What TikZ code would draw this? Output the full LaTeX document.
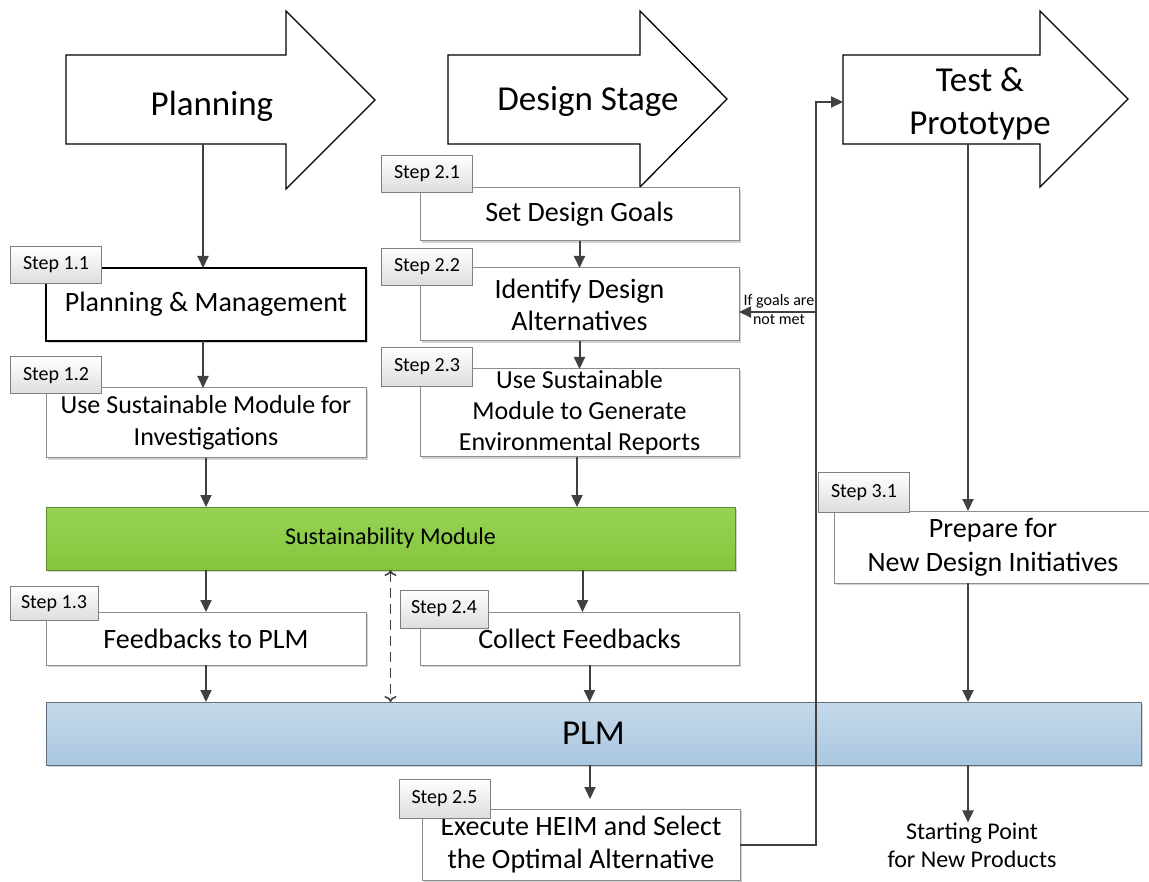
\documentclass[tikz,border=0pt]{standalone}
\usepackage{fontspec}
\setmainfont{Carlito}
\usetikzlibrary{arrows.meta,shadows}
\definecolor{ln}{HTML}{404040}
\definecolor{boxgray}{HTML}{8C8C8C}
\definecolor{tabgray}{HTML}{7F7F7F}
\definecolor{tabbot}{HTML}{DDDDDD}
\definecolor{susTop}{HTML}{96D355}
\definecolor{susBot}{HTML}{84C53C}
\definecolor{susLine}{HTML}{5E8B34}
\definecolor{plmTop}{HTML}{C5D9EA}
\definecolor{plmBot}{HTML}{A9C7E0}
\definecolor{plmLine}{HTML}{5F6E7D}
\begin{document}
\begin{tikzpicture}[x=1pt,y=-1pt,
  stagearrow/.style={draw=black, line width=1.3pt, fill=white, line join=miter},
  stagetext/.style={inner sep=0pt, align=center, font=\fontsize{35}{43}\selectfont},
  box/.style={draw=boxgray, line width=1pt, fill=white, inner sep=0pt, outer sep=0pt,
    align=center, font=\fontsize{28}{32}\selectfont,
    drop shadow={shadow xshift=2pt, shadow yshift=-2pt, opacity=0.18, fill=black}},
  tab/.style={draw=tabgray, line width=1pt, top color=white, bottom color=tabbot,
    minimum width=91pt, minimum height=37pt, inner sep=0pt, outer sep=0pt,
    font=\fontsize{20}{24}\selectfont},
  conn/.style={draw=ln, line width=2pt, -{Triangle[length=12pt,width=11pt]}},
  dconn/.style={draw=ln, line width=1.6pt, dash pattern=on 10pt off 6pt,
    {To[length=6pt,width=12pt]}-{To[length=6pt,width=12pt]}},
  small/.style={inner sep=0pt, align=center, font=\fontsize{16}{19}\selectfont},
]
\useasboundingbox (0,0) rectangle (1149,882);

% stage arrows
\draw[stagearrow] (66,55) -- (286,55) -- (286,11) -- (375,100) -- (286,189) -- (286,144) -- (66,144) -- cycle;
\node[stagetext] (planning) at (212,106) {Planning};
\draw[stagearrow] (448,55) -- (640,55) -- (640,11) -- (727,99) -- (640,187) -- (640,144) -- (448,144) -- cycle;
\node[stagetext] (design) at (588,101) {Design Stage};
\draw[stagearrow] (843,55) -- (1040,55) -- (1040,11) -- (1128,99) -- (1040,187) -- (1040,144) -- (843,144) -- cycle;
\node[stagetext] (test) at (980,104) {Test \&\\Prototype};

\coordinate (pa) at (203,144.5);
\coordinate (ta) at (968,144.5);
\coordinate (loop) at (816,102);
\coordinate (tst) at (843,102);
\coordinate (br) at (816,312);

% boxes
\node[box, draw=black, line width=1.6pt, minimum width=320pt, minimum height=73pt] (b11) at (206,304.5) {Planning \& Management};
\node[box, minimum width=320pt, minimum height=70pt, font=\fontsize{26}{32}\selectfont] (b12) at (206,423) {Use Sustainable Module for\\Investigations};
\node[box, minimum width=319pt, minimum height=53pt] (b21) at (579.5,214.5) {Set Design Goals};
\node[box, minimum width=319pt, minimum height=73pt] (b22) at (579.5,304.5) {Identify Design\\Alternatives};
\node[box, minimum width=319pt, minimum height=88pt, font=\fontsize{26}{31}\selectfont] (b23) at (579.5,413) {Use Sustainable\\Module to Generate\\Environmental Reports};
\node[box, draw=susLine, top color=susTop, bottom color=susBot, minimum width=689pt, minimum height=63pt, font=\fontsize{24}{28}\selectfont] (sus) at (390.5,538.5) {Sustainability Module};
\node[box, minimum width=320pt, minimum height=53pt] (b13) at (206,638.5) {Feedbacks to PLM};
\node[box, minimum width=319pt, minimum height=53pt] (b24) at (579.5,638.5) {Collect Feedbacks};
\node[box, draw=plmLine, top color=plmTop, bottom color=plmBot, minimum width=1095pt, minimum height=63pt, font=\fontsize{35}{40}\selectfont] (plm) at (593.5,733.5) {PLM};
\node[box, minimum width=318pt, minimum height=71pt, font=\fontsize{28}{33}\selectfont] (b25) at (581,844.5) {Execute HEIM and Select\\the Optimal Alternative};
\node[box, minimum width=318pt, minimum height=72pt, font=\fontsize{28}{34}\selectfont] (b31) at (993,547) {Prepare for\\New Design Initiatives};

% tabs
\node[tab] (t11) at (56,265) {Step 1.1};
\node[tab] (t12) at (56,375.5) {Step 1.2};
\node[tab, minimum width=88pt, minimum height=34pt] (t13) at (54,603.5) {Step 1.3};
\node[tab] (t21) at (427,174) {Step 2.1};
\node[tab] (t22) at (427,267) {Step 2.2};
\node[tab, minimum height=39pt] (t23) at (427,367) {Step 2.3};
\node[tab, minimum width=88pt, minimum height=38pt] (t24) at (444,609) {Step 2.4};
\node[tab, minimum height=39pt] (t25) at (444.5,798.5) {Step 2.5};
\node[tab, minimum height=39pt] (t31) at (864,492.5) {Step 3.1};

% free texts
\node[small] (ifnot) at (779,309.5) {If goals are\\not met};
\node[inner sep=0pt, align=center, font=\fontsize{24}{28}\selectfont] (start) at (972,845) {Starting Point\\for New Products};

% connectors
\draw[conn] (pa) -- (pa |- b11.north);
\draw[conn] ([xshift=-3pt]b11.south) -- ([xshift=-3pt]b12.north);
\draw[conn] (b12.south) -- (b12.south |- sus.north);
\draw[conn] (b21.south) -- (b22.north);
\draw[conn] (b22.south) -- (b23.north);
\draw[conn] ([xshift=-2.5pt]b23.south) -- ([xshift=-2.5pt]b23.south |- sus.north);
\draw[conn] (b13.north |- sus.south) -- (b13.north);
\draw[conn] ([xshift=3pt]b24.north |- sus.south) -- ([xshift=3pt]b24.north);
\draw[conn] (b13.south) -- (b13.south |- plm.north);
\draw[conn] ([xshift=10pt]b24.south) -- ([xshift=10pt]b24.south |- plm.north);
\draw[dconn] (sus.south) -- (sus.south |- plm.north);
\draw[conn, shorten >=10pt] ([xshift=9pt]b25.north |- plm.south) -- ([xshift=9pt]b25.north);
\draw[conn] (ta) -- (ta |- b31.north);
\draw[conn] (ta |- b31.south) -- (ta |- plm.north);
\draw[conn] (ta |- plm.south) -- (ta |- start.north);
\draw[conn] (b25.east) -| (loop) -- (tst);
\draw[conn] (br) -- (br -| b22.east);
\end{tikzpicture}
\end{document}
